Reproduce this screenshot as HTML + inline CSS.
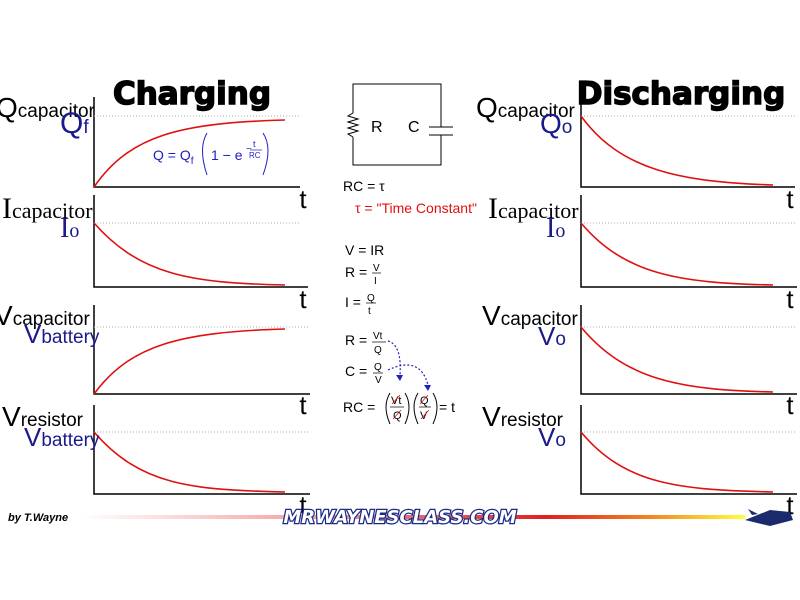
<!DOCTYPE html>
<html><head><meta charset="utf-8"><style>
body{margin:0;background:#fff;}
svg{display:block}
text{font-family:"Liberation Sans",sans-serif}
.ser{font-family:"Liberation Serif",serif}
.big{font-family:"DejaVu Sans","Liberation Sans",sans-serif;font-weight:900}
.dv{font-family:"DejaVu Sans",sans-serif}
</style></head><body>
<svg width="800" height="600" viewBox="0 0 800 600" xmlns="http://www.w3.org/2000/svg">
<defs>
<linearGradient id="g" x1="0" x2="1">
<stop offset="0" stop-color="#fff"/><stop offset="0.35" stop-color="#f4a0a0"/><stop offset="0.7" stop-color="#e02020"/><stop offset="0.85" stop-color="#f08020"/><stop offset="1" stop-color="#ffff40"/>
</linearGradient>
</defs>
<text x="192" y="104" font-size="31" class="big" text-anchor="middle" stroke="#000" stroke-width="1.5">Charging</text>
<text x="681" y="104" font-size="31" class="big" text-anchor="middle" stroke="#000" stroke-width="1.5">Discharging</text>

<g stroke="#000" stroke-width="1.5" fill="none">
<path d="M94,97 V187 H300"/>
<path d="M94,195 V287 H308"/>
<path d="M94,305 V394 H310"/>
<path d="M94,405 V494 H310"/>
<path d="M581,97 V187 H795"/>
<path d="M581,195 V287 H797"/>
<path d="M581,305 V394 H797"/>
<path d="M581,405 V494 H797"/>
</g>
<g stroke="#aab" stroke-width="1" stroke-dasharray="1,2">
<path d="M94,116H300M94,223H300M94,327H310M94,432H310"/>
<path d="M581,116H795M581,223H795M581,327H795M581,432H795"/>
</g>
<g stroke="#e01010" stroke-width="1.6" fill="none">
<path d="M94,187 C130,135 180,123 285,120"/>
<path d="M94,223 C140,275 190,283 285,285"/>
<path d="M94,394 C130,345 180,332 285,329"/>
<path d="M94,432 C140,485 190,490 285,492"/>
<path d="M581,116 C620,170 680,182 773,185"/>
<path d="M581,223 C625,275 680,283 773,285"/>
<path d="M581,327 C625,380 680,390 773,392"/>
<path d="M581,432 C625,485 680,490 773,492"/>
</g>
<g font-size="26" text-anchor="middle">
<text x="303" y="208">t</text><text x="303" y="308">t</text><text x="303" y="414">t</text><text x="303" y="514">t</text>
<text x="790" y="208">t</text><text x="790" y="308">t</text><text x="790" y="414">t</text><text x="790" y="514">t</text>
</g>
<text x="-4" y="117" font-size="28">Q<tspan font-size="19">capacitor</tspan></text>
<text x="60" y="133" font-size="30" fill="#1a1a8a">Q<tspan font-size="19">f</tspan></text>
<text x="2" y="218" font-size="30" class="ser">I<tspan font-size="22">capacitor</tspan></text>
<text x="60" y="237" font-size="28" class="ser" fill="#1a1a8a">I<tspan font-size="20">o</tspan></text>
<text x="-6" y="325" font-size="28">V<tspan font-size="19">capacitor</tspan></text>
<text x="24" y="343" font-size="26" fill="#1a1a8a">V<tspan font-size="19">battery</tspan></text>
<text x="2" y="426" font-size="28">V<tspan font-size="19">resistor</tspan></text>
<text x="24" y="446" font-size="26" fill="#1a1a8a">V<tspan font-size="19">battery</tspan></text>
<text x="476" y="117" font-size="28">Q<tspan font-size="19">capacitor</tspan></text>
<text x="540" y="133" font-size="28" fill="#1a1a8a">Q<tspan font-size="19">o</tspan></text>
<text x="488" y="218" font-size="30" class="ser">I<tspan font-size="22">capacitor</tspan></text>
<text x="546" y="237" font-size="28" class="ser" fill="#1a1a8a">I<tspan font-size="20">o</tspan></text>
<text x="482" y="325" font-size="28">V<tspan font-size="19">capacitor</tspan></text>
<text x="538" y="345" font-size="26" fill="#1a1a8a">V<tspan font-size="19">o</tspan></text>
<text x="482" y="426" font-size="28">V<tspan font-size="19">resistor</tspan></text>
<text x="538" y="446" font-size="26" fill="#1a1a8a">V<tspan font-size="19">o</tspan></text>
<g fill="#2020c0" font-size="14">
<text x="153" y="160">Q = Q<tspan font-size="10" dy="4">f</tspan></text>
<path d="M207,133 Q198,148 207,175" stroke="#2020c0" fill="none"/>
<text x="211" y="160">1 − e</text>
<text x="246" y="152" font-size="10">−</text>
<text x="253" y="147" font-size="9">t</text>
<path d="M250,150H262" stroke="#2020c0" stroke-width="0.7"/>
<text x="249" y="158" font-size="8">RC</text>
<path d="M263,133 Q273,148 263,175" stroke="#2020c0" fill="none"/>
</g>
<g stroke="#000" stroke-width="1" fill="none">
<path d="M353,113 V84 H441 V127 M441,135 V165 H353 V137"/>
<path d="M353,113 l-5,3 l10,3 l-10,3 l10,3 l-10,3 l10,3 l-10,3 l5,3"/>
<path d="M429,127 H453 M429,135 H453"/>
</g>
<text x="371" y="132" font-size="16">R</text>
<text x="408" y="132" font-size="16">C</text>
<g font-size="14">
<text x="343" y="191">RC = τ</text>
<text x="355" y="213" fill="#e01010">τ = "Time Constant"</text>
<text x="345" y="255">V = IR</text>
<text x="345" y="277">R = </text>
<text x="373" y="271" font-size="10">V</text><path d="M372,273H381" stroke="#000" stroke-width="0.7"/><text x="374" y="284" font-size="10">I</text>
<text x="345" y="307">I = </text>
<text x="367" y="301" font-size="10">Q</text><path d="M366,303H376" stroke="#000" stroke-width="0.7"/><text x="368" y="314" font-size="10">t</text>
<text x="345" y="345">R = </text>
<text x="373" y="339" font-size="10">Vt</text><path d="M372,342H386" stroke="#000" stroke-width="0.7"/><text x="374" y="353" font-size="10">Q</text>
<text x="345" y="376">C = </text>
<text x="374" y="370" font-size="10">Q</text><path d="M373,373H383" stroke="#000" stroke-width="0.7"/><text x="375" y="383" font-size="10">V</text>
<text x="343" y="412">RC = </text>
<path d="M390,393 Q382,406 390,424 M405,393 Q413,406 405,424 M418,393 Q410,406 418,424 M433,393 Q441,406 433,424" stroke="#000" fill="none"/>
<text x="391" y="404" font-size="11">Vt</text><path d="M390,407H404" stroke="#000" stroke-width="0.7"/><text x="393" y="419" font-size="11">Q</text>
<text x="420" y="404" font-size="11">Q</text><path d="M419,407H431" stroke="#000" stroke-width="0.7"/><text x="420" y="419" font-size="11">V</text>
<path d="M392,404l8,-9M393,419l8,-9M420,404l8,-9M421,419l8,-9" stroke="#e01010" stroke-width="0.8"/>
<text x="439" y="412">= t</text>
</g>
<g stroke="#2020c0" stroke-width="1.2" fill="none" stroke-dasharray="2,2">
<path d="M388,341 Q402,345 400,375"/>
<path d="M388,370 Q420,355 428,385"/>
</g>
<path d="M396,375l4,6l3,-6zM424,385l4,6l3,-6z" fill="#2020c0"/>
<text x="8" y="521" font-size="11" font-style="italic" font-weight="bold">by T.Wayne</text>
<rect x="80" y="515" width="665" height="4" fill="url(#g)"/>
<text x="400" y="523" font-size="18" font-weight="900" font-style="italic" text-anchor="middle" fill="#fff" stroke="#1a2a8a" stroke-width="2.5" paint-order="stroke" class="dv">MRWAYNESCLASS.COM</text>
<path d="M745,520 L770,510 L790,512 L793,520 L770,526 Z" fill="#1a2a6a"/>
<path d="M748,509 L758,514 L752,515Z" fill="#1a2a6a"/>
</svg>
</body></html>
